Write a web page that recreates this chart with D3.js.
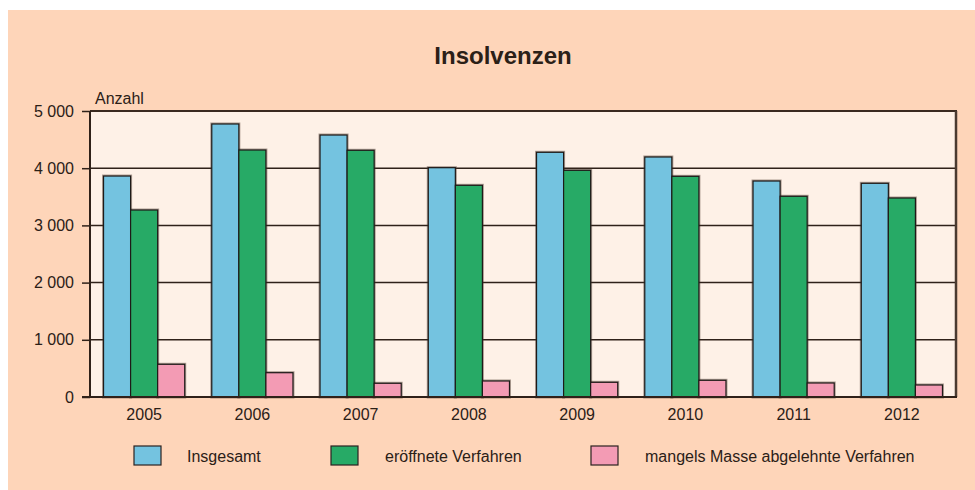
<!DOCTYPE html>
<html><head><meta charset="utf-8">
<script src="https://cdn.jsdelivr.net/npm/d3@7"></script>
<style>
html,body{margin:0;padding:0;background:#fff;}
svg text{font-family:"Liberation Sans",Arial,sans-serif;fill:#2b2017;}
</style></head>
<body>
<svg id="c" width="975" height="490"></svg>
<script>
const years = ["2005","2006","2007","2008","2009","2010","2011","2012"];
const seriesNames = ["Insgesamt","eröffnete Verfahren","mangels Masse abgelehnte Verfahren"];
const insgesamt = [3863, 4773, 4580, 4009, 4278, 4196, 3776, 3736];
const eroeffnet = [3269, 4318, 4313, 3701, 3963, 3858, 3509, 3479];
const mangels   = [572, 425, 240, 280, 257, 292, 245, 210];
const yTicks = [0, 1000, 2000, 3000, 4000, 5000];
const colors = ["#74c3e0", "#27aa66", "#f39bb4"];

const series = [insgesamt, eroeffnet, mangels];
const svg = d3.select("#c");
const W = 975, H = 490;
const m = {left: 90, right: 956, top: 111, bottom: 397};

svg.append("rect").attr("x", 8).attr("y", 10).attr("width", W - 8).attr("height", H - 10).attr("fill", "#fed5b9");
svg.append("rect").attr("x", m.left).attr("y", m.top).attr("width", m.right - m.left).attr("height", m.bottom - m.top).attr("fill", "#fef1e7");

const x = d3.scaleBand().domain(years).range([m.left, m.right]).paddingInner(0.25).paddingOuter(0.125);
const xs = d3.scaleBand().domain(d3.range(series.length)).range([0, x.bandwidth()]);
const y = d3.scaleLinear().domain([0, 5000]).range([m.bottom, m.top]);
const fmt = v => v === 0 ? "0" : d3.format(",")(v).replace(/,/g, " ");

// gridlines
svg.append("g").selectAll("line").data(yTicks.filter(t => t > 0 && t < 5000)).join("line")
  .attr("x1", m.left).attr("x2", m.right).attr("y1", d => y(d)).attr("y2", d => y(d))
  .attr("stroke", "#2f2119").attr("stroke-width", 1.5);

// y axis
const yAxis = d3.axisLeft(y).tickValues(yTicks).tickFormat(fmt).tickSize(8).tickPadding(8);
const gy = svg.append("g").attr("transform", `translate(${m.left},0)`).call(yAxis);
gy.select(".domain").remove();
gy.selectAll(".tick line").attr("stroke", "#2f2119").attr("stroke-width", 1.5);
gy.selectAll(".tick text").attr("font-size", 16).attr("font-family", "Liberation Sans, Arial, sans-serif").attr("fill", "#2b2017");

// bars
const groups = svg.append("g").selectAll("g").data(years).join("g")
  .attr("transform", d => `translate(${x(d)},0)`);
groups.each(function(yr, i) {
  const g = d3.select(this);
  series.forEach((s, k) => {
    g.append("rect").attr("x", xs(k)).attr("y", y(s[i])).attr("width", xs.bandwidth()).attr("height", y(0) - y(s[i]))
      .attr("fill", "none").attr("stroke", "rgba(70,50,40,0.45)").attr("stroke-width", 3);
  });
  series.forEach((s, k) => {
    g.append("rect").attr("x", xs(k)).attr("y", y(s[i])).attr("width", xs.bandwidth()).attr("height", y(0) - y(s[i]))
      .attr("fill", colors[k]).attr("stroke", "#1e1a18").attr("stroke-width", 1.2);
  });
});

// frame
svg.append("line").attr("x1", m.left).attr("x2", m.right + 1).attr("y1", m.top).attr("y2", m.top).attr("stroke", "#3a2a20").attr("stroke-width", 2);
svg.append("line").attr("x1", m.right).attr("x2", m.right).attr("y1", m.top).attr("y2", m.bottom).attr("stroke", "#4a3a30").attr("stroke-width", 2.5);
svg.append("line").attr("x1", m.left).attr("x2", m.left).attr("y1", m.top).attr("y2", m.bottom + 1).attr("stroke", "#2f2119").attr("stroke-width", 2);
svg.append("line").attr("x1", m.left - 8).attr("x2", m.right + 1).attr("y1", m.bottom).attr("y2", m.bottom).attr("stroke", "#2f2119").attr("stroke-width", 2);

// x labels
const xAxis = d3.axisBottom(x).tickSize(0).tickPadding(12);
const gx = svg.append("g").attr("transform", `translate(0,${m.bottom})`).call(xAxis);
gx.select(".domain").remove();
gx.selectAll(".tick text").attr("font-size", 16).attr("font-family", "Liberation Sans, Arial, sans-serif").attr("fill", "#2b2017");

// title
svg.append("text").attr("x", 503).attr("y", 64).attr("text-anchor", "middle")
  .attr("font-size", 24).attr("font-weight", "bold").text("Insolvenzen");
svg.append("text").attr("x", 95).attr("y", 104).attr("font-size", 16).text("Anzahl");

// legend
const legX = [134, 331, 591];
const legTX = [187, 385, 645];
seriesNames.forEach((n, k) => {
  svg.append("rect").attr("x", legX[k]).attr("y", 446).attr("width", 27).attr("height", 19)
    .attr("fill", colors[k]).attr("stroke", "#2a2220").attr("stroke-width", 1.2);
  svg.append("text").attr("x", legTX[k]).attr("y", 462).attr("font-size", 16).text(n);
});
</script>
</body></html>
